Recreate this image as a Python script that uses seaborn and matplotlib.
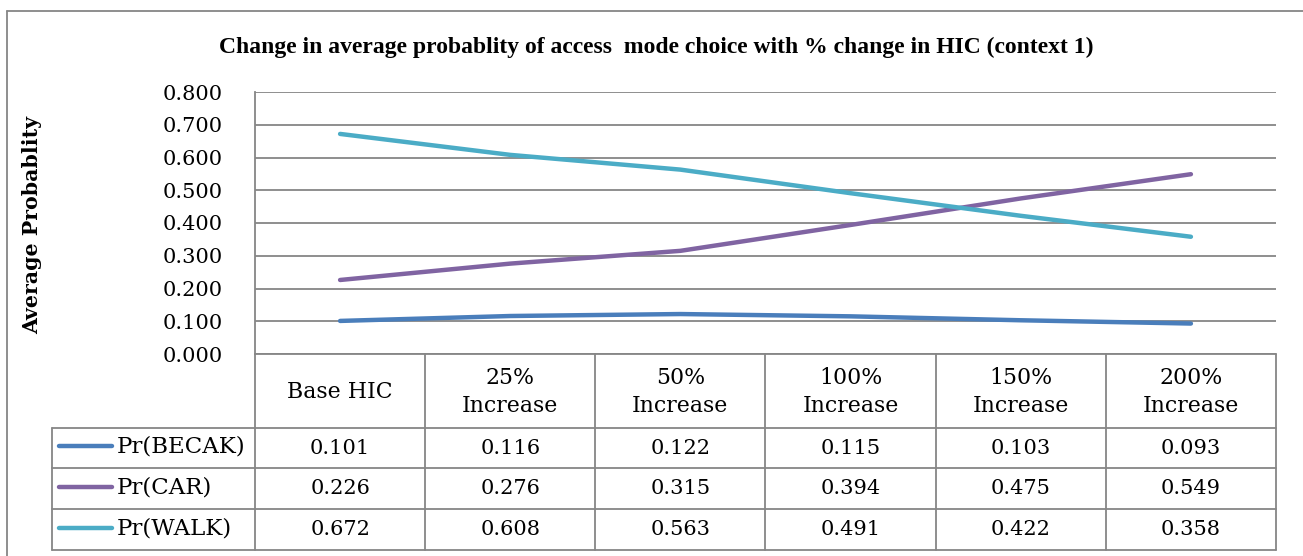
import numpy as np
import pandas as pd
import matplotlib
matplotlib.use("Agg")
import matplotlib.pyplot as plt
import seaborn as sns
from matplotlib.lines import Line2D

# ============================
# Dane
# ============================
scenarios = ["Base HIC", "25%\nIncrease", "50%\nIncrease",
             "100%\nIncrease", "150%\nIncrease", "200%\nIncrease"]
series_names = ["Pr(BECAK)", "Pr(CAR)", "Pr(WALK)"]
pr_becak = [0.101, 0.116, 0.122, 0.115, 0.103, 0.093]
pr_car = [0.226, 0.276, 0.315, 0.394, 0.475, 0.549]
pr_walk = [0.672, 0.608, 0.563, 0.491, 0.422, 0.358]
y_ticks = [0.0, 0.1, 0.2, 0.3, 0.4, 0.5, 0.6, 0.7, 0.8]

colors = {"Pr(BECAK)": "#4A7EBB", "Pr(CAR)": "#8064A2", "Pr(WALK)": "#4BACC6"}
grid_col = "#868686"

# ============================
# Ustawienia
# ============================
sns.set_style("white")
plt.rcParams['font.family'] = ['DejaVu Serif']
plt.rcParams['text.color'] = 'black'
plt.rcParams['ytick.color'] = 'black'

W, H = 1303, 556
fig = plt.figure(figsize=(W / 100, H / 100), dpi=100)


def fx(px):
    return px / W


def fy(py):
    return 1 - py / H


# obszar wykresu
x0, x1, y_top, y_bot = 255, 1276, 92, 354
ax = fig.add_axes([fx(x0), fy(y_bot), fx(x1) - fx(x0), fy(y_top) - fy(y_bot)])

df = pd.DataFrame({
    "x": list(range(len(scenarios))) * 3,
    "value": pr_becak + pr_car + pr_walk,
    "series": [s for s in series_names for _ in scenarios],
})
sns.lineplot(data=df, x="x", y="value", hue="series", palette=colors,
             linewidth=3.2, ax=ax, legend=False)

ax.set_xlim(-0.5, len(scenarios) - 0.5)
ax.set_ylim(0, 0.8)
ax.set_yticks(y_ticks)
ax.set_yticklabels([f"{v:.3f}" for v in y_ticks], fontsize=15, color='black')
ax.tick_params(axis='y', length=0, pad=23)
ax.set_xticks([])
ax.set_xlabel("")
ax.set_ylabel("")
for v in y_ticks:
    ax.axhline(v, color=grid_col, lw=1.3, zorder=0)
for side in ["top", "right", "bottom"]:
    ax.spines[side].set_visible(False)
ax.spines["left"].set_color(grid_col)
ax.spines["left"].set_linewidth(1.3)

# tytuł i oś Y
fig.text(fx(656), fy(47), "Change in average probablity of access  mode choice with % change in HIC (context 1)",
         ha='center', va='center', fontsize=17, fontweight='bold', family='Liberation Serif')
fig.text(fx(32), fy(225), "Average Probablity", rotation=90, ha='center', va='center',
         fontsize=14.8, fontweight='bold')

# ramka zewnętrzna
fig.add_artist(Line2D([fx(7), fx(1310)], [fy(11), fy(11)], transform=fig.transFigure, color=grid_col, lw=1.3))
fig.add_artist(Line2D([fx(7), fx(7)], [fy(11), fy(560)], transform=fig.transFigure, color=grid_col, lw=1.3))

# ============================
# Tabela danych
# ============================
col_w = (x1 - x0) / len(scenarios)
col_edges = [x0 + i * col_w for i in range(len(scenarios) + 1)]
row_edges = [354, 428, 468, 509, 550]
leg_left = 52


def hline(xa, xb, y):
    fig.add_artist(Line2D([fx(xa), fx(xb)], [fy(y), fy(y)], transform=fig.transFigure, color=grid_col, lw=1.3))


def vline(x, ya, yb):
    fig.add_artist(Line2D([fx(x), fx(x)], [fy(ya), fy(yb)], transform=fig.transFigure, color=grid_col, lw=1.3))


hline(x0, x1, row_edges[0])
for y in row_edges[1:]:
    hline(leg_left, x1, y)
for x in col_edges:
    vline(x, row_edges[0], row_edges[-1])
vline(leg_left, row_edges[1], row_edges[-1])

for i, lab in enumerate(scenarios):
    cx = (col_edges[i] + col_edges[i + 1]) / 2
    fig.text(fx(cx), fy((row_edges[0] + row_edges[1]) / 2 + 1), lab, ha='center', va='center',
             fontsize=15.8, linespacing=1.4)

for r, (name, vals) in enumerate(zip(series_names, [pr_becak, pr_car, pr_walk])):
    cy = (row_edges[r + 1] + row_edges[r + 2]) / 2
    fig.add_artist(Line2D([fx(59), fx(112)], [fy(cy - 2), fy(cy - 2)], transform=fig.transFigure,
                          color=colors[name], lw=3.2, solid_capstyle='round'))
    fig.text(fx(117), fy(cy - 1), name, ha='left', va='center', fontsize=16.5)
    for i, v in enumerate(vals):
        cx = (col_edges[i] + col_edges[i + 1]) / 2
        fig.text(fx(cx), fy(cy), f"{v:.3f}", ha='center', va='center', fontsize=15)

plt.savefig("out.png", dpi=100)
